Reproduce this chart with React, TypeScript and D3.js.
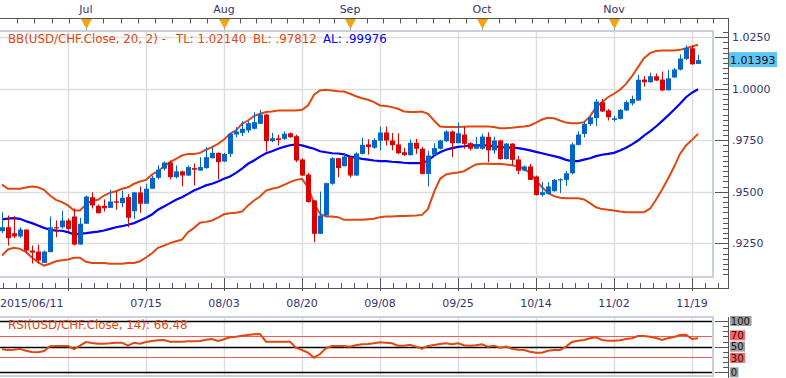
import React from "react";
import * as d3 from "d3";

const startDate = new Date(2015, 5, 11);
const endDate = new Date(2015, 10, 21);

const opens = [
  0.9309, 0.9328, 0.9299, 0.9283, 0.9317, 0.9215, 0.9210, 0.9155, 0.9207, 0.9328,
  0.9328, 0.9361, 0.9380, 0.9244, 0.9345, 0.9474, 0.9432, 0.9432, 0.9422, 0.9454,
  0.9445, 0.9474, 0.9406, 0.9497, 0.9442, 0.9515, 0.9568, 0.9612, 0.9642, 0.9571,
  0.9599, 0.9579, 0.9615, 0.9603, 0.9615, 0.9663, 0.9689, 0.9647, 0.9684, 0.9778,
  0.9786, 0.9798, 0.9806, 0.9830, 0.9875, 0.9746, 0.9760, 0.9757, 0.9784, 0.9770,
  0.9657, 0.9584, 0.9458, 0.9296, 0.9385, 0.9539, 0.9663, 0.9624, 0.9668, 0.9579,
  0.9684, 0.9730, 0.9714, 0.9748, 0.9788, 0.9749, 0.9730, 0.9692, 0.9678, 0.9738,
  0.9709, 0.9587, 0.9680, 0.9709, 0.9746, 0.9793, 0.9736, 0.9778, 0.9736, 0.9709,
  0.9709, 0.9767, 0.9701, 0.9749, 0.9659, 0.9734, 0.9657, 0.9603, 0.9623, 0.9574,
  0.9485, 0.9490, 0.9503, 0.9555, 0.9558, 0.9590, 0.9728, 0.9781, 0.9829, 0.9858,
  0.9935, 0.9895, 0.9849, 0.9854, 0.9895, 0.9929, 0.9943, 1.0045, 1.0032, 1.0061,
  1.0045, 0.9993, 1.0055, 1.0093, 1.0145, 1.0197, 1.0121,
];
const highs = [
  0.9400, 0.9385, 0.9382, 0.9328, 0.9317, 0.9239, 0.9244, 0.9215, 0.9380, 0.9361,
  0.9409, 0.9370, 0.9419, 0.9374, 0.9482, 0.9497, 0.9438, 0.9463, 0.9510, 0.9501,
  0.9506, 0.9490, 0.9499, 0.9526, 0.9539, 0.9579, 0.9628, 0.9647, 0.9652, 0.9628,
  0.9603, 0.9628, 0.9637, 0.9668, 0.9717, 0.9720, 0.9691, 0.9689, 0.9784, 0.9814,
  0.9843, 0.9843, 0.9886, 0.9898, 0.9879, 0.9786, 0.9777, 0.9793, 0.9788, 0.9777,
  0.9662, 0.9592, 0.9460, 0.9501, 0.9544, 0.9668, 0.9663, 0.9689, 0.9671, 0.9691,
  0.9762, 0.9755, 0.9760, 0.9817, 0.9817, 0.9786, 0.9784, 0.9714, 0.9754, 0.9757,
  0.9718, 0.9698, 0.9736, 0.9752, 0.9798, 0.9798, 0.9836, 0.9815, 0.9741, 0.9767,
  0.9782, 0.9789, 0.9768, 0.9751, 0.9737, 0.9736, 0.9674, 0.9628, 0.9635, 0.9579,
  0.9547, 0.9547, 0.9562, 0.9566, 0.9601, 0.9739, 0.9794, 0.9841, 0.9869, 0.9950,
  0.9951, 0.9902, 0.9868, 0.9902, 0.9943, 0.9967, 1.0068, 1.0062, 1.0078, 1.0074,
  1.0084, 1.0092, 1.0102, 1.0167, 1.0211, 1.0210, 1.0164,
];
const lows = [
  0.9299, 0.9239, 0.9275, 0.9275, 0.9207, 0.9152, 0.9152, 0.9155, 0.9207, 0.9280,
  0.9322, 0.9312, 0.9239, 0.9244, 0.9345, 0.9419, 0.9395, 0.9404, 0.9422, 0.9413,
  0.9425, 0.9328, 0.9369, 0.9398, 0.9442, 0.9515, 0.9560, 0.9603, 0.9560, 0.9565,
  0.9527, 0.9576, 0.9531, 0.9603, 0.9612, 0.9663, 0.9560, 0.9644, 0.9668, 0.9765,
  0.9770, 0.9786, 0.9802, 0.9830, 0.9696, 0.9741, 0.9725, 0.9752, 0.9762, 0.9644,
  0.9577, 0.9448, 0.9255, 0.9296, 0.9385, 0.9534, 0.9571, 0.9624, 0.9569, 0.9579,
  0.9681, 0.9681, 0.9709, 0.9701, 0.9725, 0.9701, 0.9683, 0.9675, 0.9675, 0.9684,
  0.9584, 0.9526, 0.9676, 0.9705, 0.9741, 0.9668, 0.9736, 0.9709, 0.9701, 0.9709,
  0.9705, 0.9644, 0.9684, 0.9656, 0.9657, 0.9628, 0.9586, 0.9599, 0.9558, 0.9482,
  0.9476, 0.9487, 0.9501, 0.9494, 0.9528, 0.9584, 0.9725, 0.9764, 0.9820, 0.9819,
  0.9887, 0.9846, 0.9841, 0.9851, 0.9892, 0.9919, 0.9943, 1.0011, 1.0029, 1.0038,
  0.9989, 0.9992, 1.0053, 1.0089, 1.0140, 1.0117, 1.0120,
];
const closes = [
  0.9328, 0.9275, 0.9283, 0.9317, 0.9215, 0.9205, 0.9167, 0.9210, 0.9328, 0.9325,
  0.9361, 0.9320, 0.9244, 0.9345, 0.9477, 0.9434, 0.9396, 0.9420, 0.9453, 0.9447,
  0.9471, 0.9374, 0.9497, 0.9442, 0.9515, 0.9568, 0.9607, 0.9642, 0.9571, 0.9599,
  0.9579, 0.9620, 0.9607, 0.9620, 0.9668, 0.9689, 0.9644, 0.9684, 0.9782, 0.9793,
  0.9806, 0.9833, 0.9838, 0.9875, 0.9746, 0.9760, 0.9752, 0.9782, 0.9765, 0.9652,
  0.9579, 0.9450, 0.9296, 0.9385, 0.9542, 0.9663, 0.9615, 0.9671, 0.9579, 0.9686,
  0.9728, 0.9717, 0.9751, 0.9788, 0.9749, 0.9726, 0.9687, 0.9678, 0.9738, 0.9709,
  0.9587, 0.9676, 0.9712, 0.9749, 0.9793, 0.9736, 0.9784, 0.9733, 0.9709, 0.9725,
  0.9768, 0.9701, 0.9749, 0.9659, 0.9734, 0.9655, 0.9602, 0.9623, 0.9558, 0.9484,
  0.9498, 0.9526, 0.9558, 0.9561, 0.9590, 0.9730, 0.9778, 0.9830, 0.9861, 0.9938,
  0.9890, 0.9862, 0.9857, 0.9898, 0.9935, 0.9951, 1.0044, 1.0032, 1.0061, 1.0040,
  0.9992, 1.0051, 1.0094, 1.0147, 1.0198, 1.0119, 1.01393,
];
const upperBand = [
  0.9535, 0.9515, 0.9515, 0.9515, 0.9521, 0.9526, 0.9522, 0.9510, 0.9482, 0.9461,
  0.9450, 0.9434, 0.9409, 0.9409, 0.9438, 0.9458, 0.9461, 0.9482, 0.9495, 0.9503,
  0.9515, 0.9522, 0.9539, 0.9550, 0.9558, 0.9584, 0.9600, 0.9624, 0.9644, 0.9660,
  0.9676, 0.9684, 0.9684, 0.9689, 0.9704, 0.9717, 0.9733, 0.9754, 0.9782, 0.9798,
  0.9830, 0.9846, 0.9867, 0.9879, 0.9887, 0.9890, 0.9895, 0.9895, 0.9895, 0.9895,
  0.9898, 0.9919, 0.9971, 0.9992, 0.9995, 0.9992, 0.9988, 0.9987, 0.9976, 0.9964,
  0.9954, 0.9947, 0.9935, 0.9919, 0.9916, 0.9911, 0.9903, 0.9890, 0.9887, 0.9887,
  0.9890, 0.9879, 0.9846, 0.9817, 0.9814, 0.9814, 0.9814, 0.9816, 0.9817, 0.9817,
  0.9817, 0.9817, 0.9814, 0.9809, 0.9809, 0.9811, 0.9814, 0.9817, 0.9822, 0.9836,
  0.9851, 0.9859, 0.9857, 0.9846, 0.9836, 0.9833, 0.9833, 0.9838, 0.9866, 0.9911,
  0.9935, 0.9959, 0.9976, 0.9995, 1.0024, 1.0061, 1.0105, 1.0149, 1.0173, 1.0183,
  1.0186, 1.0186, 1.0186, 1.0189, 1.0197, 1.0205, 1.02140,
];
const middleBand = [
  0.9366, 0.9370, 0.9372, 0.9369, 0.9357, 0.9348, 0.9336, 0.9325, 0.9316, 0.9312,
  0.9311, 0.9304, 0.9293, 0.9296, 0.9299, 0.9303, 0.9307, 0.9312, 0.9320, 0.9328,
  0.9333, 0.9340, 0.9348, 0.9361, 0.9374, 0.9390, 0.9413, 0.9429, 0.9445, 0.9461,
  0.9474, 0.9490, 0.9506, 0.9519, 0.9531, 0.9539, 0.9550, 0.9563, 0.9574, 0.9592,
  0.9612, 0.9636, 0.9652, 0.9671, 0.9687, 0.9697, 0.9709, 0.9718, 0.9726, 0.9730,
  0.9725, 0.9717, 0.9709, 0.9697, 0.9692, 0.9687, 0.9686, 0.9682, 0.9671, 0.9666,
  0.9660, 0.9656, 0.9652, 0.9649, 0.9649, 0.9646, 0.9644, 0.9641, 0.9639, 0.9639,
  0.9639, 0.9652, 0.9676, 0.9692, 0.9704, 0.9712, 0.9718, 0.9721, 0.9725, 0.9725,
  0.9725, 0.9725, 0.9721, 0.9717, 0.9715, 0.9714, 0.9712, 0.9707, 0.9701, 0.9694,
  0.9687, 0.9680, 0.9673, 0.9666, 0.9655, 0.9649, 0.9649, 0.9656, 0.9663, 0.9673,
  0.9680, 0.9684, 0.9689, 0.9701, 0.9714, 0.9730, 0.9749, 0.9773, 0.9793, 0.9817,
  0.9843, 0.9870, 0.9898, 0.9927, 0.9959, 0.9981, 0.99976,
];
const lowerBand = [
  0.9191, 0.9220, 0.9228, 0.9223, 0.9207, 0.9181, 0.9158, 0.9142, 0.9151, 0.9163,
  0.9168, 0.9171, 0.9180, 0.9180, 0.9160, 0.9154, 0.9154, 0.9154, 0.9151, 0.9151,
  0.9151, 0.9154, 0.9154, 0.9163, 0.9181, 0.9202, 0.9228, 0.9239, 0.9251, 0.9260,
  0.9268, 0.9304, 0.9325, 0.9350, 0.9354, 0.9361, 0.9375, 0.9391, 0.9396, 0.9398,
  0.9404, 0.9434, 0.9458, 0.9477, 0.9506, 0.9515, 0.9521, 0.9534, 0.9547, 0.9558,
  0.9563, 0.9522, 0.9445, 0.9393, 0.9380, 0.9380, 0.9377, 0.9364, 0.9364, 0.9364,
  0.9364, 0.9367, 0.9369, 0.9377, 0.9380, 0.9380, 0.9382, 0.9382, 0.9384, 0.9385,
  0.9388, 0.9417, 0.9498, 0.9563, 0.9584, 0.9590, 0.9594, 0.9600, 0.9617, 0.9633,
  0.9636, 0.9636, 0.9635, 0.9636, 0.9633, 0.9629, 0.9623, 0.9612, 0.9590, 0.9558,
  0.9522, 0.9495, 0.9479, 0.9471, 0.9469, 0.9469, 0.9469, 0.9463, 0.9445, 0.9425,
  0.9416, 0.9413, 0.9409, 0.9404, 0.9401, 0.9401, 0.9401, 0.9401, 0.9418, 0.9461,
  0.9510, 0.9563, 0.9620, 0.9684, 0.9725, 0.9752, 0.97812,
];
const rsiValues = [
  44.8, 43.5, 44, 46, 42, 39.6, 39, 41.5, 50.7, 51.3,
  51.3, 51.3, 45.4, 51.9, 59, 57.1, 55.8, 55.8, 56.5, 57.7,
  57.7, 51.9, 57.7, 55.8, 59, 61, 62.4, 63, 59.6, 59.6,
  59.6, 60.4, 60.4, 61, 63.6, 64.9, 61, 64.3, 68.2, 69.4,
  71.3, 72.7, 74, 74.7, 59.6, 59.6, 59.6, 59.6, 59.6, 48,
  43.5, 38.2, 28.5, 35.7, 46.7, 51.3, 51.3, 51.3, 50, 52.6,
  54.6, 55.2, 56.5, 58.5, 57.7, 56.5, 51.9, 51.9, 53.8, 50,
  46, 51.3, 53.2, 55.2, 56.5, 54.6, 56.5, 52.6, 51.9, 52.6,
  54.6, 50, 51.9, 48, 50, 46, 44, 43.5, 40.2, 38.2,
  38.2, 42, 43.5, 43.5, 50, 59, 61.6, 63, 66.3, 68.2,
  63, 61.6, 61.6, 62.4, 64.9, 66.3, 70.8, 70.8, 69.4, 66.9,
  63, 66.3, 68.8, 72.7, 73.3, 64.9, 66.48,
];

const priceTicks = [1.025, 1.0, 0.975, 0.95, 0.925];
const priceTickLabels = ["1.0250", "1.0000", ".9750", ".9500", ".9250"];
const rsiLevels = [100, 70, 50, 30, 0];
const rsiLevelLabels = ["100", "70", "50", "30", "0"];
const gridStart = 11;
const gridStep = 13;

const ORANGE = "#E0470F";
const BLUE = "#0000F5";
const UP = "#0064C8";
const DOWN = "#DC0000";
const AXIS_TEXT = "#34346E";
const GRID = "#DEDEDE";
const FONT = "DejaVu Sans, Verdana, sans-serif";

const noLead = (v: number, d: number) => v.toFixed(d).replace(/^0/, "");

export default function App() {
  const n = closes.length;
  const dates = d3
    .timeDay.range(startDate, endDate)
    .filter((d) => d.getDay() !== 0 && d.getDay() !== 6)
    .slice(0, n);

  const L = 0, R = 713, T = 31, B = 277;
  const RT = 317, RB = 376;
  const axisX = 728;

  const x = d3.scaleLinear().domain([0, n - 1]).range([2, 698]);
  const y = d3.scaleLinear().domain([0.925, 1.025]).range([243.3, 37.3]);
  const yR = d3.scaleLinear().domain([0, 100]).range([372.3, 321]);

  const line = d3.line<number>().x((_, i) => x(i)).y((d) => y(d));
  const rsiLine = d3.line<number>().x((_, i) => x(i)).y((d) => yR(d));

  const gridIdx = d3.range(gridStart, n, gridStep);
  const labelIdx = [0, ...gridIdx.slice(1)];
  const fmtFull = d3.timeFormat("%Y/%m/%d");
  const fmtShort = d3.timeFormat("%m/%d");
  const fmtMonth = d3.timeFormat("%b");

  const monthIdx = d3.range(1, n).filter((i) => dates[i].getMonth() !== dates[i - 1].getMonth());
  const monthX = monthIdx.map((i) => x(i));

  const topTicks: number[] = [];
  const firstStep = (monthX[1] - monthX[0]) / 8;
  for (let t = monthX[0]; t >= 0; t -= firstStep) topTicks.push(t);
  for (let k = 0; k < monthX.length - 1; k++) {
    const s = (monthX[k + 1] - monthX[k]) / 8;
    for (let j = 1; j <= 8; j++) topTicks.push(monthX[k] + s * j);
  }
  const lastStep = (monthX[monthX.length - 1] - monthX[monthX.length - 2]) / 8;
  for (let t = monthX[monthX.length - 1] + lastStep; t <= axisX; t += lastStep) topTicks.push(t);

  const gx = gridIdx.map((i) => x(i));
  const gStep = gx[1] - gx[0];
  const botTicks: number[] = [];
  for (let t = gx[0] - gStep; t <= axisX; t += gStep / 6) if (t >= 0) botTicks.push(t);

  const minorPrice = d3.range(0.91, 1.0276, 0.0025);
  const rsiMinor = d3.range(0, 101, 10);

  const last = n - 1;
  const curY = y(closes[last]);
  const rsiLabelNudge: Record<number, number> = { 100: 0, 70: -1, 50: 0, 30: 1, 0: 0 };

  return (
    <div style={{ position: "absolute", left: 0, top: 0 }}>
      <svg width={786} height={378} style={{ display: "block", background: "#fff", fontFamily: FONT }}>
        <defs>
          <clipPath id="mainClip">
            <rect x={L} y={T} width={R - L} height={B - T} />
          </clipPath>
          <clipPath id="rsiClip">
            <rect x={L} y={RT} width={R - L} height={RB - RT} />
          </clipPath>
        </defs>

        {/* top axis */}
        <line x1={0} x2={axisX} y1={18.5} y2={18.5} stroke="#555" strokeWidth={1} />
        {topTicks.map((t, i) => (
          <line key={"tt" + i} x1={Math.round(t) + 0.5} x2={Math.round(t) + 0.5} y1={18.5} y2={23.5} stroke="#555" strokeWidth={1} />
        ))}
        {monthIdx.map((mi, k) => (
          <g key={"m" + k}>
            <text x={x(mi)} y={13} textAnchor="middle" fontSize={11} fill={AXIS_TEXT}>
              {fmtMonth(dates[mi])}
            </text>
            <line x1={x(mi) + 0.5} x2={x(mi) + 0.5} y1={28} y2={31} stroke="#9AA6B8" strokeWidth={1} />
            <path d={`M${x(mi) - 5},19 L${x(mi) + 6},19 L${x(mi) + 0.5},29 Z`} fill="#F5A214" />
          </g>
        ))}

        {/* main panel */}
        <rect x={L} y={T} width={R - L} height={B - T} fill="#fff" />
        {gridIdx.map((i) => (
          <line key={"gv" + i} x1={Math.round(x(i)) + 0.5} x2={Math.round(x(i)) + 0.5} y1={T} y2={B} stroke={GRID} strokeWidth={1.5} />
        ))}
        {priceTicks.map((p) => (
          <line key={"gh" + p} x1={L} x2={R} y1={Math.round(y(p)) + 0.5} y2={Math.round(y(p)) + 0.5} stroke={GRID} strokeWidth={1.5} />
        ))}

        <g clipPath="url(#mainClip)">
          <path d={line(upperBand) || ""} fill="none" stroke={ORANGE} strokeWidth={2} />
          <path d={line(lowerBand) || ""} fill="none" stroke={ORANGE} strokeWidth={2} />
          <path d={line(middleBand) || ""} fill="none" stroke={BLUE} strokeWidth={2.2} />
          {closes.map((c, i) => {
            const o = opens[i];
            const up = c >= o;
            const col = up ? UP : DOWN;
            const cx = Math.round(x(i));
            const top = y(Math.max(o, c));
            const bot = y(Math.min(o, c));
            return (
              <g key={"c" + i}>
                <rect x={cx} y={y(highs[i])} width={1} height={Math.max(1, y(lows[i]) - y(highs[i]))} fill={col} />
                <rect x={cx - 2} y={top} width={5} height={Math.max(1.2, bot - top)} fill={col} />
              </g>
            );
          })}
        </g>
        <rect x={L - 1} y={T} width={R - L + 1} height={B - T} fill="none" stroke="#C8D0DC" strokeWidth={2} />

        <text fontSize={11.8} y={43}>
          <tspan x={8} fill={ORANGE}>BB(USD/CHF.Close, 20, 2) -</tspan>
          <tspan x={176} fill={ORANGE}>{"TL: " + upperBand[last].toFixed(5)}</tspan>
          <tspan x={253} fill={ORANGE}>{"BL: " + noLead(lowerBand[last], 5)}</tspan>
          <tspan x={323} fill={BLUE}>{"AL: " + noLead(middleBand[last], 5)}</tspan>
        </text>

        {/* right price axis */}
        <line x1={axisX + 0.5} x2={axisX + 0.5} y1={18} y2={289} stroke="#555" strokeWidth={1} />
        {minorPrice.map((p, i) => (
          <line key={"mp" + i} x1={axisX - 5} x2={axisX} y1={Math.round(y(p)) + 0.5} y2={Math.round(y(p)) + 0.5} stroke="#555" strokeWidth={1} />
        ))}
        {priceTicks.map((p, i) => (
          <g key={"pt" + i}>
            <line x1={axisX - 13} x2={axisX} y1={Math.round(y(p)) + 0.5} y2={Math.round(y(p)) + 0.5} stroke="#555" strokeWidth={1} />
            <text x={732} y={y(p) + 4} fontSize={11} fill={AXIS_TEXT}>
              {priceTickLabels[i]}
            </text>
          </g>
        ))}
        <rect x={729} y={curY - 8} width={48} height={15} fill="#5CC6F6" />
        <text x={730} y={curY + 4} fontSize={11} fill="#111">
          {closes[last].toFixed(5)}
        </text>

        {/* bottom date axis */}
        <line x1={0} x2={axisX} y1={288.5} y2={288.5} stroke="#555" strokeWidth={1} />
        {botTicks.map((t, i) => (
          <line key={"bt" + i} x1={Math.round(t) + 0.5} x2={Math.round(t) + 0.5} y1={283} y2={288.5} stroke="#555" strokeWidth={1} />
        ))}
        {gridIdx.map((i) => (
          <line key={"bg" + i} x1={Math.round(x(i)) + 0.5} x2={Math.round(x(i)) + 0.5} y1={278} y2={291} stroke="#555" strokeWidth={1} />
        ))}
        {labelIdx.map((i, k) => (
          <text
            key={"dl" + i}
            x={k === 0 ? 0 : x(i)}
            y={307}
            fontSize={11}
            fill={AXIS_TEXT}
            textAnchor={k === 0 ? "start" : "middle"}
          >
            {k === 0 ? fmtFull(dates[i]) : fmtShort(dates[i])}
          </text>
        ))}

        {/* RSI panel */}
        <rect x={L} y={RT} width={R - L} height={RB - RT} fill="#fff" />
        {gridIdx.map((i) => (
          <line key={"rg" + i} x1={Math.round(x(i)) + 0.5} x2={Math.round(x(i)) + 0.5} y1={RT} y2={RB} stroke={GRID} strokeWidth={1.5} />
        ))}
        {rsiLevels.map((v) => (
          <line
            key={"rl" + v}
            x1={L}
            x2={R}
            y1={Math.round(yR(v)) + 0.5}
            y2={Math.round(yR(v)) + 0.5}
            stroke={v === 70 || v === 30 ? "#F25A5A" : "#000"}
            strokeWidth={v === 70 || v === 30 ? 1 : 1.3}
          />
        ))}
        <g clipPath="url(#rsiClip)">
          <path d={rsiLine(rsiValues) || ""} fill="none" stroke={ORANGE} strokeWidth={2} />
        </g>
        <rect x={L - 1} y={RT} width={R - L + 1} height={RB - RT} fill="none" stroke="#C8D0DC" strokeWidth={2} />
        <text x={8} y={329} fontSize={11.8} fill={ORANGE}>
          {"RSI(USD/CHF.Close, 14): " + rsiValues[last].toFixed(2)}
        </text>

        <line x1={axisX + 0.5} x2={axisX + 0.5} y1={317} y2={378} stroke="#555" strokeWidth={1} />
        {rsiMinor.map((v) => (
          <line
            key={"rm" + v}
            x1={v % 50 === 0 ? axisX - 13 : axisX - 5}
            x2={axisX}
            y1={Math.round(yR(v)) + 0.5}
            y2={Math.round(yR(v)) + 0.5}
            stroke="#555"
            strokeWidth={1}
          />
        ))}
        {rsiLevels.map((v, i) => {
          const red = v === 70 || v === 30;
          const label = rsiLevelLabels[i];
          const w = label.length * 6.5 + 2;
          const cy = yR(v) + rsiLabelNudge[v];
          return (
            <g key={"rlab" + v}>
              <rect x={730} y={cy - 5} width={w} height={10} fill={red ? "#FF6464" : "#9E9E9E"} />
              <text x={730.8} y={cy + 3.6} fontSize={10} fill="#111">
                {label}
              </text>
            </g>
          );
        })}
      </svg>
    </div>
  );
}
